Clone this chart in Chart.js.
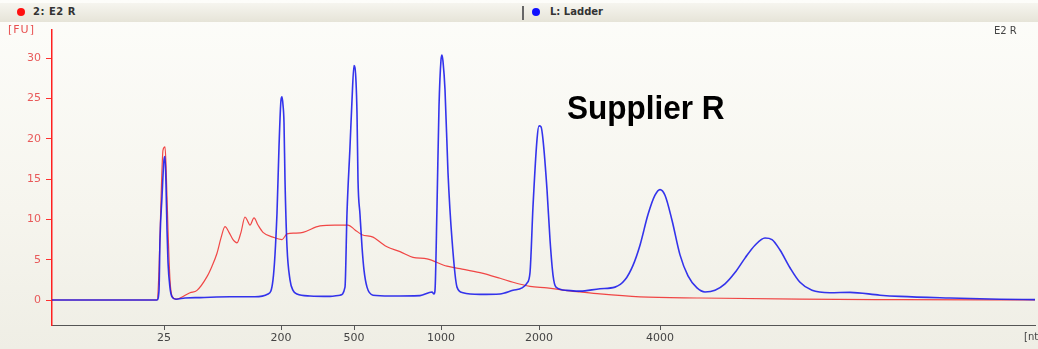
<!DOCTYPE html>
<html lang="en">
<head>
    <meta charset="UTF-8">
    <title>Supplier R</title>
    <script src="https://cdn.jsdelivr.net/npm/chart.js"></script>
    <style>
        body { margin: 0; }
        .pagina {
            position: relative; width: 1038px; height: 349px; overflow: hidden;
            background: linear-gradient(#fdfdfa, #f6f5ee 60%, #efeee5);
            font-family: "DejaVu Sans", sans-serif;
        }
        .cabecalho {
            position: absolute; left: 0; top: 3px; width: 1038px; height: 19px;
            background: linear-gradient(#f6f5ef, #e6e4d8);
        }
        .item { position: absolute; top: 3px; font-size: 10px; font-weight: bold; color: #333; }
        .ponto { position: absolute; top: 5px; width: 8px; height: 8px; border-radius: 50%; }
        .separador { position: absolute; left: 522px; top: 3px; width: 2px; height: 14px; background: #666; }
        .rotulo { position: absolute; font-size: 10px; }
        canvas { position: absolute; left: 0; top: 0; }
    </style>
</head>
<body>
<div class="pagina">
    <div class="cabecalho">
        <div class="ponto" style="left:17px; background:#ff1010"></div>
        <div class="item" style="left:33px; letter-spacing:0.5px">2: E2 R</div>
        <div class="separador"></div>
        <div class="ponto" style="left:532px; background:#1010ff"></div>
        <div class="item" style="left:550px">L: Ladder</div>
    </div>
    <canvas id="grafico" width="1038" height="349"></canvas>
    <div class="rotulo" style="left:8px; top:23px; color:#e85050; font-size:11px; letter-spacing:1px">[FU]</div>
    <div class="rotulo" style="left:994px; top:25px; color:#444">E2 R</div>
    <div class="rotulo" style="left:1024px; top:331px; color:#444">[nt]</div>
    <div style="position:absolute; left:567px; top:89px; font-family:'Liberation Sans', Arial, sans-serif; font-weight:bold; font-size:33px; color:#000; transform:scaleX(0.955); transform-origin:left top">Supplier R</div>
</div>
<script>
    // posições de migração (eixo x) e fluorescência [FU]
    const amostraX = [52, 100, 157, 159, 161, 163, 165, 166, 168, 170, 172, 176, 180, 190, 197, 207, 212, 217, 221, 225,
        229, 233, 237, 241, 245, 248, 250, 254, 258, 263, 273, 282, 287, 295, 303, 320, 335, 348, 355, 362,
        373, 380, 387, 400, 413, 427, 447, 460, 480, 500, 513, 530, 547, 565, 580, 600, 640, 700, 800, 900, 1035];
    const amostraY = [0, 0, 0, 3.7, 12.4, 18.6, 19.0, 16.8, 8.7, 2.5, 0.5, 0.1, 0.25, 0.9, 1.2, 2.9, 4.2, 5.8, 7.7, 9.1,
        8.4, 7.5, 7.1, 8.4, 10.3, 9.7, 9.3, 10.2, 9.3, 8.4, 7.8, 7.5, 8.2, 8.3, 8.4, 9.2, 9.3, 9.3, 8.7, 8.1,
        7.8, 7.2, 6.6, 6.0, 5.3, 5.1, 4.2, 3.9, 3.4, 2.7, 2.2, 1.7, 1.5, 1.2, 1.0, 0.75, 0.4, 0.25, 0.1, 0.05, 0];

    const ladderX = [52, 157, 159, 160, 162, 164, 165, 166, 167, 168, 170, 172, 176, 185, 200, 230, 255, 268, 273, 277,
        279, 281, 282, 283, 284, 285, 287, 290, 293, 297, 310, 330, 340, 345, 347, 350, 352, 354, 355, 357,
        358, 360, 362, 364, 367, 373, 390, 420, 432, 434, 435, 437, 439, 441, 442, 443, 445, 448, 452, 457,
        463, 480, 500, 513, 522, 527, 530, 533, 537, 539, 541, 543, 547, 550, 553, 556, 567, 580, 600, 615,
        625, 633, 640, 648, 655, 660, 665, 672, 680, 688, 697, 705, 715, 725, 735, 745, 755, 765, 772, 780,
        790, 800, 812, 830, 850, 880, 900, 950, 1000, 1035];
    const ladderY = [0, 0, 1.2, 7.5, 12.8, 17.4, 17.8, 14.3, 8.7, 4.7, 1.5, 0.4, 0.1, 0.25, 0.3, 0.4, 0.4, 0.75, 2.5, 10.8,
        19.0, 24.8, 25.2, 24.2, 22.0, 14.9, 6.6, 2.5, 1.2, 0.75, 0.5, 0.45, 0.6, 1.6, 10.8, 19.0, 24.8, 29.1, 28.8, 23.2,
        14.9, 10.6, 6.6, 3.7, 1.6, 0.6, 0.5, 0.55, 1.0, 0.75, 1.2, 11.6, 24.0, 29.8, 30.4, 29.6, 26.1, 15.8, 7.5, 1.6,
        0.9, 0.7, 0.75, 1.2, 1.5, 2.1, 3.4, 11.6, 19.9, 21.6, 21.5, 19.9, 13.7, 7.5, 3.1, 1.6, 1.2, 1.1, 1.4, 1.6,
        2.5, 4.3, 6.8, 10.6, 13.0, 13.7, 13.0, 9.9, 5.6, 3.0, 1.5, 1.0, 1.2, 2.0, 3.4, 5.2, 6.8, 7.7, 7.5, 6.2,
        4.0, 2.2, 1.2, 0.9, 0.95, 0.6, 0.45, 0.25, 0.1, 0.05];

    // marcas do eixo x: posição e tamanho [nt]
    const tamanhosPos = [164, 281, 354, 441, 539, 660];
    const tamanhosRotulos = ['25', '200', '500', '1000', '2000', '4000'];
    const fuTicks = [0, 5, 10, 15, 20, 25, 30];

    const pares = (xs, ys) => xs.map((x, i) => ({ x: x, y: ys[i] }));

    const ctx = document.getElementById('grafico').getContext('2d');
    new Chart(ctx, {
        type: 'line',
        data: {
            datasets: [
                {
                    label: 'L: Ladder',
                    data: pares(ladderX, ladderY),
                    borderColor: 'rgba(30, 30, 235, 0.9)',
                    borderWidth: 1.6,
                    pointRadius: 0,
                    cubicInterpolationMode: 'monotone',
                    order: 1
                },
                {
                    label: '2: E2 R',
                    data: pares(amostraX, amostraY),
                    borderColor: 'rgba(240, 40, 40, 0.85)',
                    borderWidth: 1.2,
                    pointRadius: 0,
                    cubicInterpolationMode: 'monotone',
                    order: 2
                }
            ]
        },
        options: {
            responsive: false,
            animation: false,
            layout: { padding: { top: 30, right: 3, left: 0, bottom: 0 } },
            plugins: { legend: { display: false }, tooltip: { enabled: false } },
            scales: {
                x: {
                    type: 'linear',
                    min: 52,
                    max: 1035,
                    afterFit: s => { s.height = 24; },
                    afterBuildTicks: s => { s.ticks = tamanhosPos.map(v => ({ value: v })); },
                    ticks: {
                        autoSkip: false,
                        maxRotation: 0,
                        padding: 2,
                        color: '#444',
                        font: { family: 'DejaVu Sans', size: 11 },
                        callback: v => tamanhosRotulos[tamanhosPos.indexOf(v)]
                    },
                    grid: { drawOnChartArea: false, drawTicks: true, tickLength: 5, color: '#555' },
                    border: { display: true, color: '#555', width: 1 }
                },
                y: {
                    min: -3.1,
                    max: 33.5,
                    afterFit: s => { s.width = 52; },
                    afterBuildTicks: s => { s.ticks = fuTicks.map(v => ({ value: v })); },
                    ticks: {
                        padding: 5,
                        color: '#e85a5a',
                        font: { family: 'DejaVu Sans', size: 11 }
                    },
                    grid: { drawOnChartArea: false, drawTicks: true, tickLength: 6, color: '#ff3030' },
                    border: { display: true, color: '#ff2020', width: 1.5 }
                }
            }
        }
    });
</script>
</body>
</html>
